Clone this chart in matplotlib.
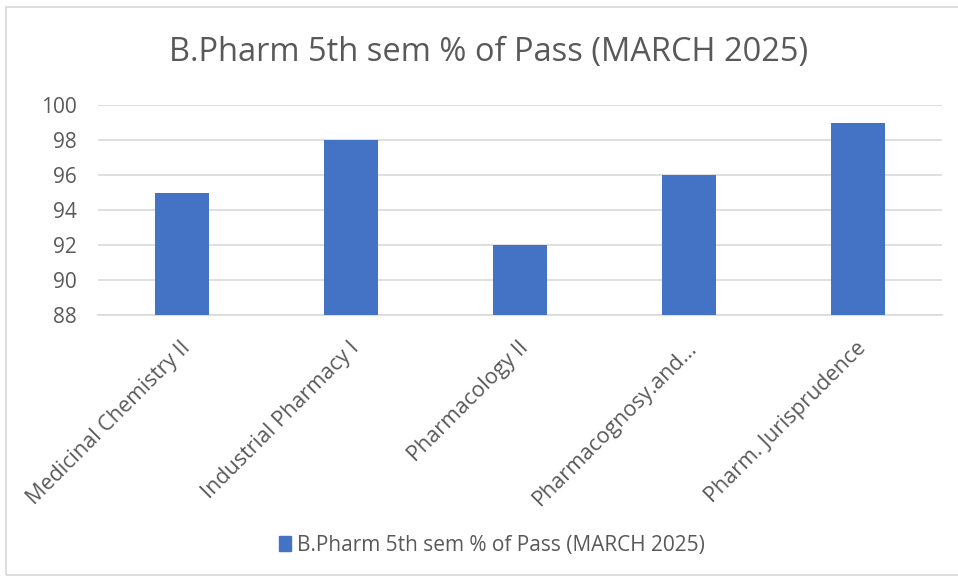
import matplotlib.pyplot as plt
from matplotlib.patches import Rectangle
from matplotlib.transforms import ScaledTranslation

subjects = ["Medicinal Chemistry II", "Industrial Pharmacy I", "Pharmacology II",
            "Pharmacognosy.and...", "Pharm. Jurisprudence"]
pass_pct = [95, 98, 92, 96, 99]
yticks = [88, 90, 92, 94, 96, 98, 100]
series_name = "B.Pharm 5th sem % of Pass (MARCH 2025)"

BAR = "#4472C4"
TXT = "#595959"
GRID = "#D9D9D9"

plt.rcParams["font.family"] = ["Open Sans", "DejaVu Sans"]

fig = plt.figure(figsize=(9.58, 5.78), dpi=100)
fig.patch.set_facecolor("white")

# chart frame
fig.patches.append(Rectangle((6 / 958, 3 / 578), 1.2, 1 - 10 / 578, transform=fig.transFigure,
                             fill=False, edgecolor="#D9D9D9", linewidth=1.2))

ax = fig.add_axes([98 / 958, 1 - 315 / 578, 844 / 958, 210 / 578])
x = range(len(subjects))
ax.bar(x, pass_pct, width=0.32, color=BAR, bottom=0, zorder=3)
ax.set_xlim(-0.5, len(subjects) - 0.5)
ax.set_ylim(88, 100)
ax.set_yticks(yticks)
ax.yaxis.grid(True, color=GRID, linewidth=1.2, zorder=0)
for s in ax.spines.values():
    s.set_visible(False)
ax.spines["bottom"].set_visible(True)
ax.spines["bottom"].set_color(GRID)
ax.spines["bottom"].set_linewidth(1.2)
ax.tick_params(axis="both", length=0, colors=TXT, labelsize=15)
ax.tick_params(axis="y", pad=15)
ax.set_xticks(list(x))
ax.set_xticklabels(subjects, rotation=45, ha="right", va="center",
                   rotation_mode="anchor", fontsize=15.5, color=TXT)
off = ScaledTranslation(5 / 100, -25 / 100, fig.dpi_scale_trans)
for lbl in ax.get_xticklabels():
    lbl.set_transform(lbl.get_transform() + off)

fig.text(489 / 958, 1 - 52 / 578, series_name, ha="center", va="center",
         fontsize=23.5, color=TXT)

leg = fig.legend([Rectangle((0, 0), 1, 1, color=BAR)], [series_name],
                 loc="center", bbox_to_anchor=(492 / 958, 1 - 545 / 578),
                 frameon=False, fontsize=15, handlelength=0.55, handleheight=0.7,
                 handletextpad=0.3)
for t in leg.get_texts():
    t.set_color(TXT)

fig.savefig("out.png", dpi=100, facecolor="white")
